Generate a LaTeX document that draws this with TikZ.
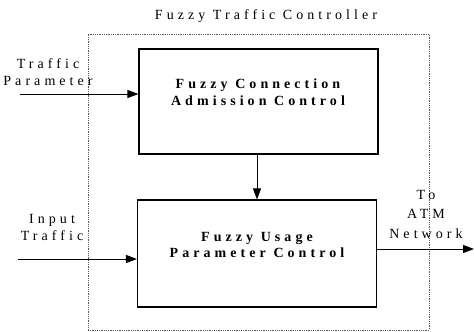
\documentclass[tikz,border=0pt]{standalone}
\usepackage{fontspec}
\setmainfont{Liberation Serif}
\newfontfamily\spaced[LetterSpace=29]{Liberation Serif}
\usetikzlibrary{arrows.meta}
\begin{document}
\begin{tikzpicture}[x=1pt,y=-1pt,
  blk/.style={draw=black,line width=1.1pt,minimum width=239pt,inner sep=0pt},
  frame/.style={draw=black!65,densely dotted,line width=0.8pt,inner sep=0pt},
  lbl/.style={font=\spaced\fontsize{14}{17}\selectfont,align=center,inner sep=0pt},
  blbl/.style={font=\spaced\bfseries\fontsize{14}{16.5}\selectfont,align=center,inner sep=0pt},
  arr/.style={-{Triangle[length=11pt,width=8pt]},line width=0.9pt}]
\useasboundingbox (0,0) rectangle (474,332);
\node[frame,minimum width=341pt,minimum height=296pt] (ftc) at (258.5,182) {};
\node[lbl] (title) at (266,16) {Fuzzy Traffic Controller};
\node[blk,minimum height=105pt] (cac) at (258.5,101.5) {};
\node[blk,minimum height=107pt] (upc) at (257,253.5) {};
\node[blbl] (cact) at (258,92) {Fuzzy Connection\\Admission Control};
\node[blbl] (upct) at (257,245) {Fuzzy Usage\\Parameter Control};
\coordinate (tpin) at (20,94);
\coordinate (itin) at (18,259);
\coordinate (out) at (474,249);
\draw[arr] (tpin) -- (tpin -| cac.west);
\draw[arr] (itin) -- (itin -| upc.west);
\draw[arr] (cac.south -| 257,0) -- (upc.north -| 257,0);
\draw[arr] (out -| upc.east) -- (out);
\node[lbl] (tp) at (48,72.5) {Traffic\\Parameter};
\node[lbl] (it) at (52,227) {Input\\Traffic};
\node[lbl,font=\spaced\fontsize{14}{19.5}\selectfont] (atm) at (426,214) {To\\ATM\\Network};
\end{tikzpicture}
\end{document}
